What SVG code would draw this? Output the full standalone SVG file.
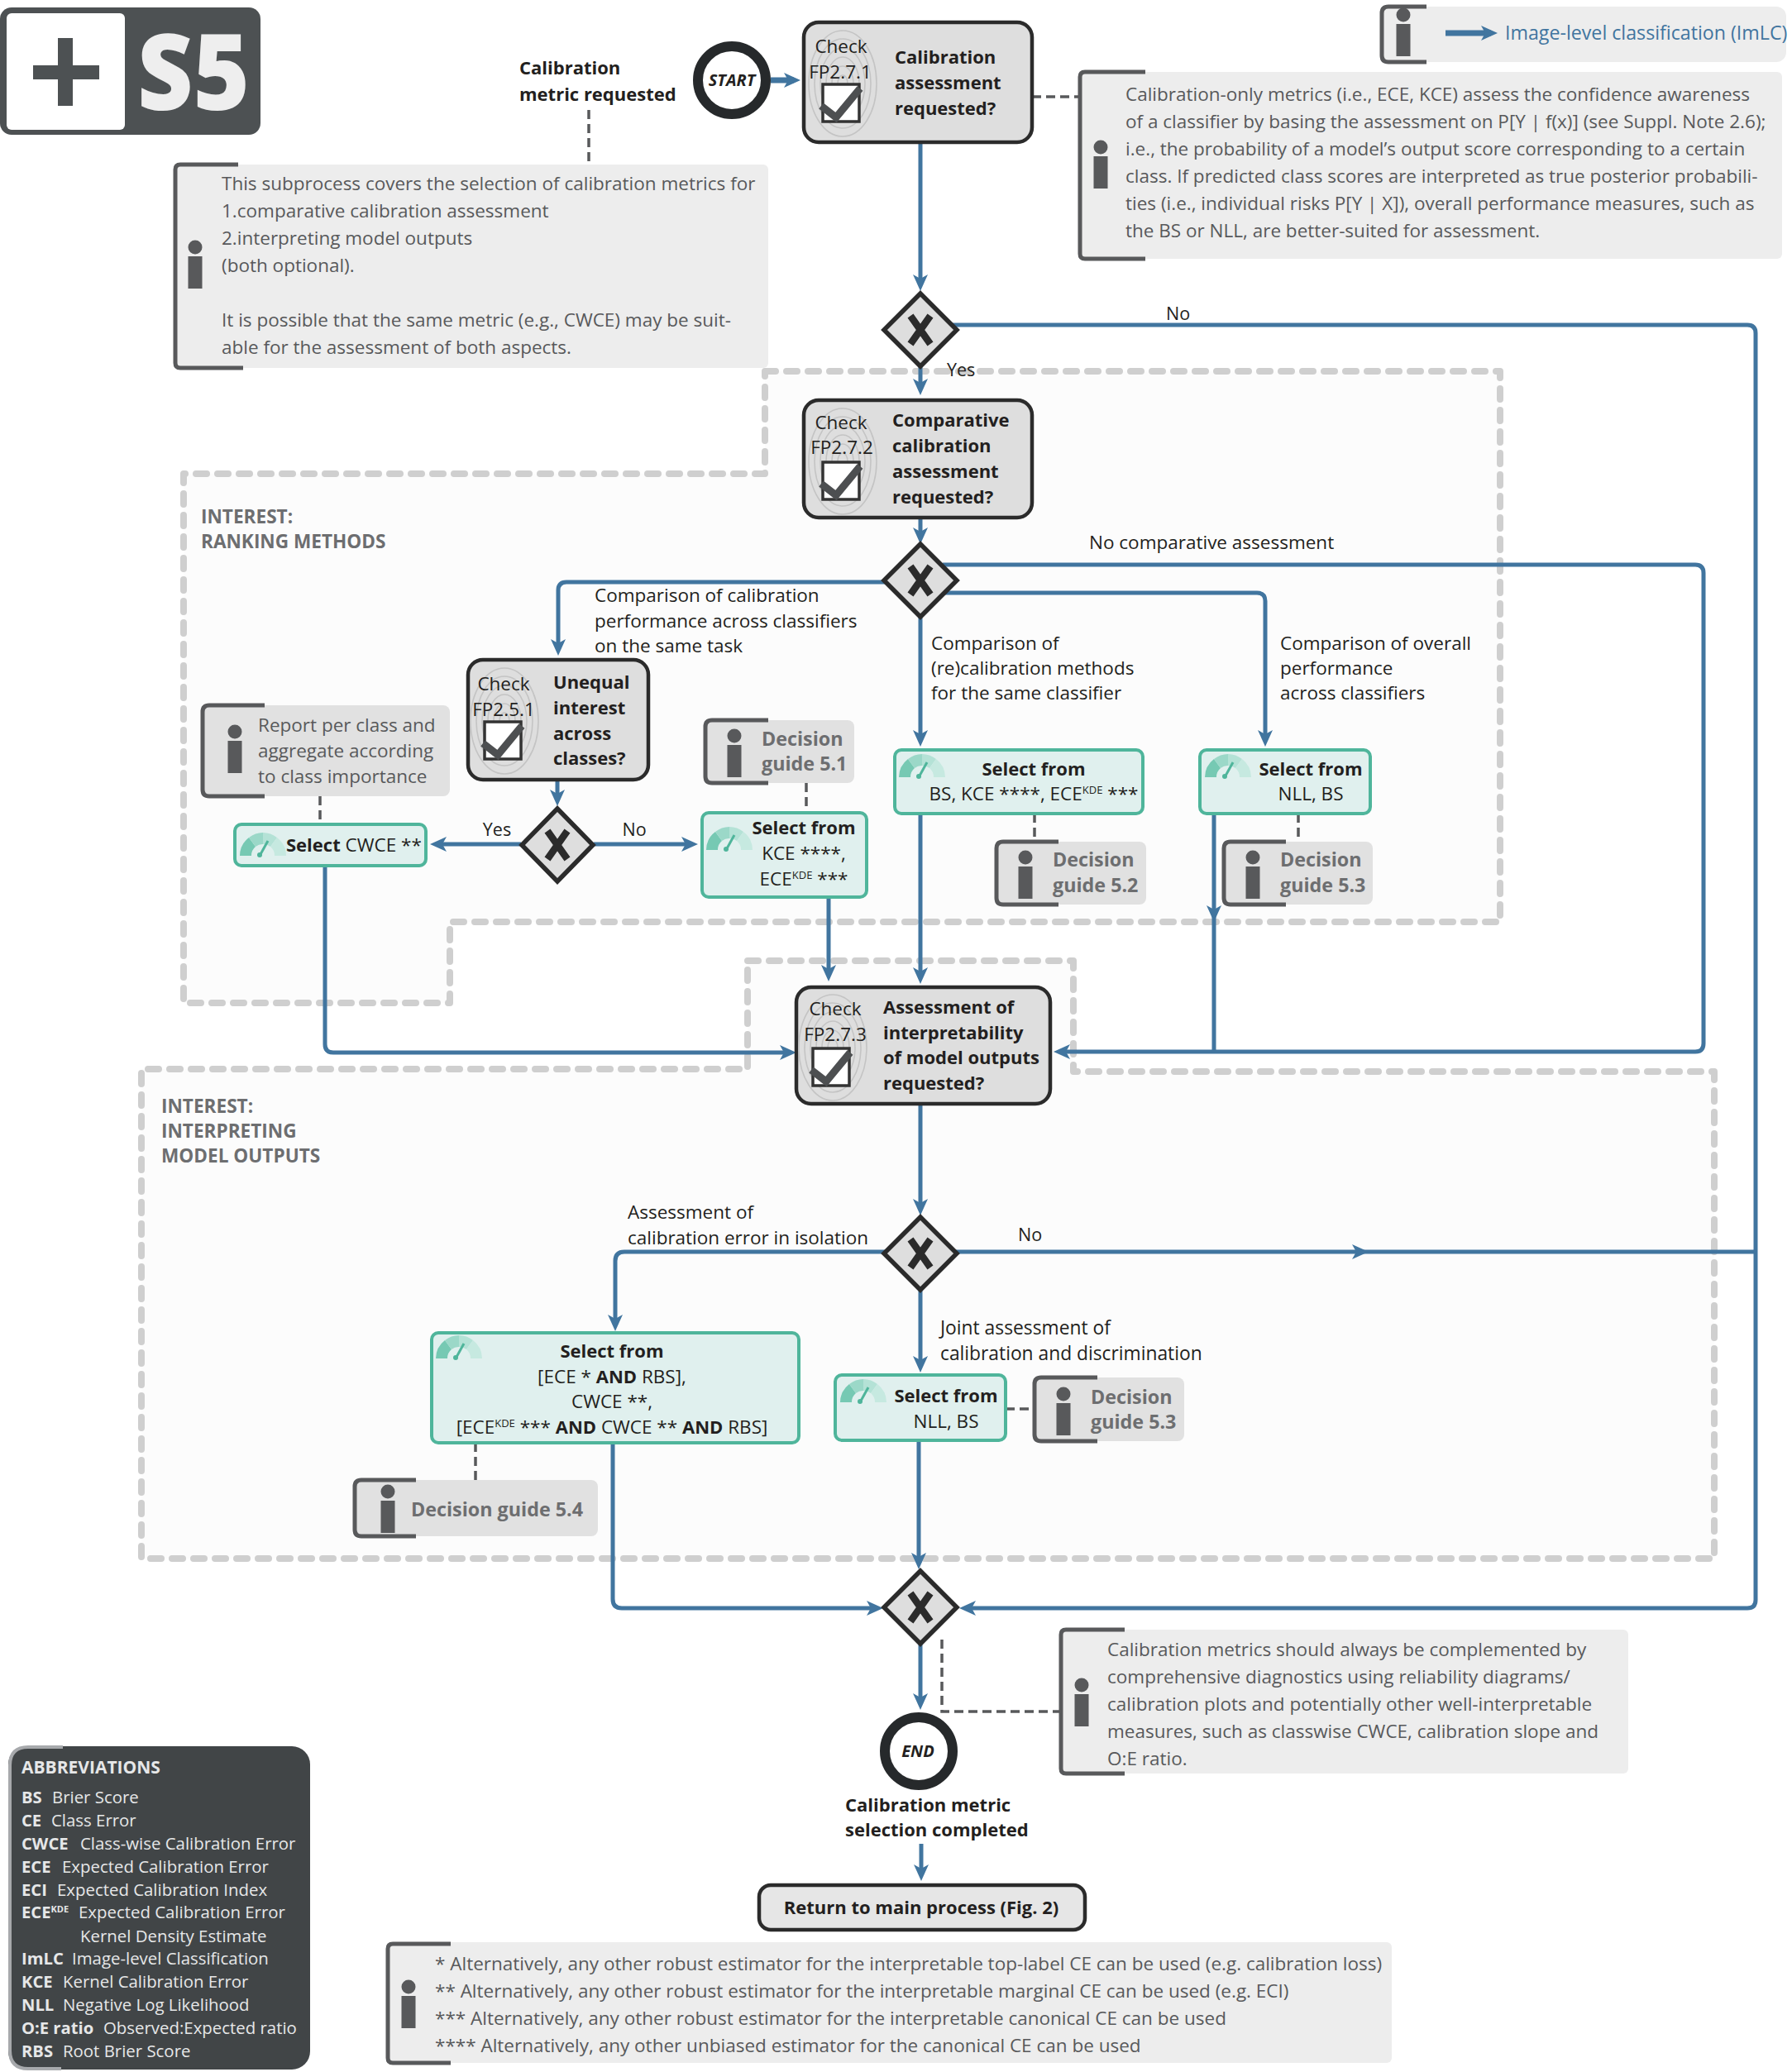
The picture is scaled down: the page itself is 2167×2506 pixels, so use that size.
<svg xmlns="http://www.w3.org/2000/svg" width="2167" height="2506" viewBox="0 0 2167 2506">
<style>
text{font-family:"Open Sans","Noto Sans",sans-serif;font-size:22.5px;fill:#231f20}
.b{font-weight:700;font-size:22px}
.info text,text.info{fill:#58595b}
.info text.gd,.gd{font-weight:700;fill:#6d6e70;font-size:23.3px}
.reg{fill:#fcfcfc;stroke:#cfcfcf;stroke-width:8;stroke-dasharray:13 13;stroke-linecap:round;stroke-linejoin:round}
.regt{font-weight:700;fill:#6d6e70;font-size:22.6px}
.c{fill:none;stroke:#41759f;stroke-width:5;stroke-linejoin:round}
.ca{marker-end:url(#ah)}
.d{fill:none;stroke:#58595b;stroke-width:3.5;stroke-dasharray:11 6}
.task{fill:#dedede;stroke:#2b2b2b;stroke-width:4.5}
.sel{fill:#e0f0ee;stroke:#4fb59b;stroke-width:4}
.gw{fill:#dedede;stroke:#2b2b2b;stroke-width:5.5;stroke-linejoin:miter}
.x{fill:none;stroke:#2b2b2b;stroke-width:8.5}
.p1{fill:#ededed}.p2{fill:#e1e1e1}
.br{fill:none;stroke:#58595b;stroke-width:5}
.ab text{fill:#e6e7e8;font-size:20.4px}
.ab .b{font-weight:700;font-size:20.2px}
.m{text-anchor:middle}
</style>
<defs>
<marker id="ah" markerUnits="userSpaceOnUse" markerWidth="22" markerHeight="20" refX="12" refY="10" orient="auto">
<path d="M0 1 L20 10 L0 19 L5 10 Z" fill="#41759f"/>
</marker>
<g id="i"><circle cx="0" cy="0" r="8.5" fill="#58595b"/><rect x="-8.5" y="11" width="17" height="39" fill="#58595b"/></g>
<g id="g">
<path d="M0 0 A28 28 0 0 1 11 -22 L19 -11 A14 14 0 0 0 14 0 Z" fill="#76c9b3"/>
<path d="M11 -22 A28 28 0 0 1 28 -28 L28 -14 A14 14 0 0 0 19 -11 Z" fill="#9bd8c8"/>
<path d="M28 -28 A28 28 0 0 1 45 -22 L37 -11 A14 14 0 0 0 28 -14 Z" fill="#b4e2d6"/>
<path d="M45 -22 A28 28 0 0 1 56 0 L42 0 A14 14 0 0 0 37 -11 Z" fill="#c6e9e0"/>
<path d="M24 0 L34 -18" stroke="#4fb59b" stroke-width="3" fill="none"/><circle cx="24" cy="-1" r="3" fill="#4fb59b"/>
</g>
<g id="chk">
<g fill="none" stroke="#c4c4c4" stroke-width="1.6">
<ellipse cx="1" cy="-24" rx="41" ry="64"/><ellipse cx="1" cy="-24" rx="34" ry="54"/><ellipse cx="1" cy="-24" rx="27" ry="43"/><ellipse cx="1" cy="-24" rx="20" ry="32"/><ellipse cx="1" cy="-24" rx="13" ry="21"/><ellipse cx="1" cy="-24" rx="6" ry="10"/>
</g>
<rect x="-23" y="-23" width="44" height="45" fill="#fff" stroke="#333" stroke-width="3.5"/>
<path d="M-25 3 L-7 17 L22 -18" fill="none" stroke="#4d4f51" stroke-width="9"/>
</g>
</defs>
<rect width="2167" height="2506" fill="#fff"/>

<g id="regions">
<path class="reg" d="M925 449 H1814 V1115 H544 V1213 H222 V573 H925 Z"/>
<path class="reg" d="M904 1162 H1298 V1296 H2073 V1885 H171 V1293 H904 Z"/>
<text class="regt" x="243" y="633">INTEREST:</text>
<text class="regt" x="243" y="663">RANKING METHODS</text>
<text class="regt" x="195" y="1346">INTEREST:</text>
<text class="regt" x="195" y="1376">INTERPRETING</text>
<text class="regt" x="195" y="1406">MODEL OUTPUTS</text>
</g>

<g id="connectors">
<path class="c ca" d="M932 97 H960" style="stroke-width:7"/>
<path class="c ca" d="M1113 172 V344"/>
<path class="c ca" d="M1113 443 V470"/>
<path class="c ca" d="M1150 393 H2113 Q2123 393 2123 403 V1935 Q2123 1945 2113 1945 H1168"/>
<path class="c ca" d="M1113 626 V650"/>
<path class="c ca" d="M1085 704 H685 Q675 704 675 714 V785"/>
<path class="c ca" d="M1140 683 H2050 Q2060 683 2060 693 V1262 Q2060 1272 2050 1272 H1282"/>
<path class="c ca" d="M1135 717 H1520 Q1530 717 1530 727 V895"/>
<path class="c ca" d="M1113 746 V895"/>
<path class="c ca" d="M1113 984 V1182"/>
<path class="c ca" d="M1468 984 V1107"/>
<path class="c" d="M1468 1107 V1272"/>
<path class="c ca" d="M674 943 V967"/>
<path class="c ca" d="M630 1021 H528"/>
<path class="c ca" d="M718 1021 H836"/>
<path class="c ca" d="M393 1047 V1263 Q393 1273 403 1273 H955"/>
<path class="c ca" d="M1002 1085 V1179"/>
<path class="c ca" d="M1113 1336 V1462"/>
<path class="c ca" d="M1150 1514 H1647"/>
<path class="c" d="M1640 1514 H2123"/>
<path class="c ca" d="M1085 1514 H755 Q744 1514 744 1525 V1602"/>
<path class="c ca" d="M1113 1560 V1652"/>
<path class="c ca" d="M1111 1742 V1890"/>
<path class="c ca" d="M741 1745 V1934 Q741 1945 752 1945 H1060"/>
<path class="c ca" d="M1113 1988 V2060"/>
<path class="c ca" d="M1114 2230 V2267"/>
<path class="d" d="M1248 117 H1304"/>
<path class="d" d="M712 133 V197"/>
<path class="d" d="M387 963 V995"/>
<path class="d" d="M975 947 V981"/>
<path class="d" d="M1251 984 V1016"/>
<path class="d" d="M1570 984 V1016"/>
<path class="d" d="M575 1745 V1790"/>
<path class="d" d="M1216 1704 H1250"/>
<path class="d" d="M1139 1983 V2070 H1281"/>
</g>

<g id="logo">
<rect x="0" y="9" width="315" height="154" rx="14" fill="#4d5153"/>
<rect x="8" y="16" width="143" height="141" rx="6" fill="#fff"/>
<path d="M40 79 H70 V46 H88 V79 H120 V96 H88 V128 H70 V96 H40 Z" fill="#4d5153"/>
<text class="b" x="166" y="133" style="font-size:127px;font-weight:800;fill:#eeeeee" textLength="136" lengthAdjust="spacingAndGlyphs">S5</text>
</g>

<g id="legend" class="info">
<rect class="p1" x="1669" y="8" width="491" height="67" rx="12"/>
<path class="br" d="M1725 8 H1679 Q1671 8 1671 16 V67 Q1671 75 1679 75 H1725"/>
<use href="#i" x="1697" y="18"/>
<path class="c ca" style="stroke-width:7" d="M1748 40 H1803"/>
<text x="1820" y="48" style="fill:#41759f;font-size:23.2px">Image-level classification (ImLC)</text>
</g>

<g id="start">
<circle cx="885" cy="97" r="41" fill="#fff" stroke="#26292b" stroke-width="12"/>
<text class="m b" x="885" y="104" style="font-size:20px;font-style:italic">START</text>
</g>
<g id="req-label">
<text class="b" x="628" y="90">Calibration</text>
<text class="b" x="628" y="122">metric requested</text>
</g>

<g id="task1">
<rect class="task" x="972" y="27" width="276" height="145" rx="18"/>
<use href="#chk" x="1018" y="125"/>
<text class="m" x="1017" y="64">Check</text>
<text class="m" x="1016" y="95">FP2.7.1</text>
<text class="b" x="1082" y="77">Calibration</text>
<text class="b" x="1082" y="108">assessment</text>
<text class="b" x="1082" y="139">requested?</text>
</g>

<g id="info-right" class="info">
<rect class="p1" x="1304" y="87" width="851" height="226" rx="6"/>
<path class="br" d="M1385 87 H1312 Q1306 87 1306 93 V307 Q1306 313 1312 313 H1385"/>
<use href="#i" x="1331" y="178"/>
<text x="1361" y="122">Calibration-only metrics (i.e., ECE, KCE) assess the confidence awareness</text>
<text x="1361" y="155">of a classifier by basing the assessment on P[Y | f(x)] (see Suppl. Note 2.6);</text>
<text x="1361" y="188">i.e., the probability of a model’s output score corresponding to a certain</text>
<text x="1361" y="221">class. If predicted class scores are interpreted as true posterior probabili-</text>
<text x="1361" y="254">ties (i.e., individual risks P[Y | X]), overall performance measures, such as</text>
<text x="1361" y="287">the BS or NLL, are better-suited for assessment.</text>
</g>

<g id="info-left" class="info">
<rect class="p1" x="210" y="199" width="719" height="246" rx="6"/>
<path class="br" d="M288 199 H218 Q212 199 212 205 V439 Q212 445 218 445 H294"/>
<use href="#i" x="236" y="299"/>
<text x="268" y="230">This subprocess covers the selection of calibration metrics for</text>
<text x="268" y="263">1.comparative calibration assessment</text>
<text x="268" y="296">2.interpreting model outputs</text>
<text x="268" y="329">(both optional).</text>
<text x="268" y="395">It is possible that the same metric (e.g., CWCE) may be suit-</text>
<text x="268" y="428">able for the assessment of both aspects.</text>
</g>

<g id="gw1">
<path class="gw" d="M1113 355 L1157 399 L1113 443 L1069 399 Z"/><path class="x" d="M1101 382 L1125 416 M1125 382 L1101 416"/>
<text x="1145" y="455" style="font-size:21.5px">Yes</text>
<text x="1410" y="387" style="font-size:21.5px">No</text>
</g>

<g id="task2">
<rect class="task" x="972" y="484" width="276" height="142" rx="18"/>
<use href="#chk" x="1018" y="582"/>
<text class="m" x="1017" y="519">Check</text>
<text class="m" x="1018" y="549">FP2.7.2</text>
<text class="b" x="1079" y="516">Comparative</text>
<text class="b" x="1079" y="547">calibration</text>
<text class="b" x="1079" y="578">assessment</text>
<text class="b" x="1079" y="609">requested?</text>
</g>

<g id="gw2">
<path class="gw" d="M1113 658 L1157 702 L1113 746 L1069 702 Z"/><path class="x" d="M1101 685 L1125 719 M1125 685 L1101 719"/>
</g>
<g id="labels-gw2">
<text x="1317" y="664">No comparative assessment</text>
<text x="719" y="728">Comparison of calibration</text>
<text x="719" y="759">performance across classifiers</text>
<text x="719" y="789">on the same task</text>
<text x="1126" y="786">Comparison of</text>
<text x="1126" y="816">(re)calibration methods</text>
<text x="1126" y="846">for the same classifier</text>
<text x="1548" y="786">Comparison of overall</text>
<text x="1548" y="816">performance</text>
<text x="1548" y="846">across classifiers</text>
</g>

<g id="task3">
<rect class="task" x="566" y="798" width="218" height="145" rx="18"/>
<use href="#chk" x="609" y="896"/>
<text class="m" x="609" y="835">Check</text>
<text class="m" x="609" y="866">FP2.5.1</text>
<text class="b" x="669" y="833">Unequal</text>
<text class="b" x="669" y="864">interest</text>
<text class="b" x="669" y="895">across</text>
<text class="b" x="669" y="925">classes?</text>
</g>

<g id="gw3">
<path class="gw" d="M674 978 L717 1022 L674 1066 L631 1022 Z"/><path class="x" d="M662 1005 L686 1039 M686 1005 L662 1039"/>
<text class="m" x="601" y="1011" style="font-size:21.5px">Yes</text>
<text class="m" x="767" y="1011" style="font-size:21.5px">No</text>
</g>

<g id="info-class" class="info">
<rect class="p2" x="243" y="853" width="301" height="110" rx="8"/>
<path class="br" d="M320 853 H253 Q245 853 245 861 V955 Q245 963 253 963 H320"/>
<use href="#i" x="284" y="885"/>
<text x="312" y="885">Report per class and</text>
<text x="312" y="916">aggregate according</text>
<text x="312" y="947">to class importance</text>
</g>

<g id="sel-cwce">
<rect class="sel" x="284" y="997" width="231" height="50" rx="8"/>
<use href="#g" x="290" y="1035"/>
<text x="346" y="1030"><tspan class="b">Select</tspan> CWCE **</text>
</g>

<g id="dg51" class="info">
<rect class="p2" x="851" y="871" width="182" height="76" rx="8"/>
<path class="br" d="M929 871 H861 Q853 871 853 879 V939 Q853 947 861 947 H929"/>
<use href="#i" x="888" y="890"/>
<text class="gd" x="921" y="902">Decision</text>
<text class="gd" x="921" y="932">guide 5.1</text>
</g>

<g id="sel-kce">
<rect class="sel" x="849" y="983" width="199" height="102" rx="8"/>
<use href="#g" x="854" y="1028"/>
<text class="m b" x="972" y="1009">Select from</text>
<text class="m" x="972" y="1040">KCE ****,</text>
<text class="m" x="972" y="1071">ECE<tspan dy="-8" style="font-size:13px">KDE</tspan><tspan dy="8"> ***</tspan></text>
</g>

<g id="sel-bs">
<rect class="sel" x="1082" y="907" width="300" height="77" rx="8"/>
<use href="#g" x="1087" y="940"/>
<text class="m b" x="1250" y="938">Select from</text>
<text class="m" x="1250" y="968">BS, KCE ****, ECE<tspan dy="-8" style="font-size:13px">KDE</tspan><tspan dy="8"> ***</tspan></text>
</g>

<g id="sel-nll">
<rect class="sel" x="1451" y="907" width="206" height="77" rx="8"/>
<use href="#g" x="1457" y="940"/>
<text class="m b" x="1585" y="938">Select from</text>
<text class="m" x="1585" y="968">NLL, BS</text>
</g>

<g id="dg52" class="info">
<rect class="p2" x="1203" y="1018" width="183" height="76" rx="8"/>
<path class="br" d="M1280 1018 H1213 Q1205 1018 1205 1026 V1086 Q1205 1094 1213 1094 H1280"/>
<use href="#i" x="1240" y="1037"/>
<text class="gd" x="1273" y="1048">Decision</text>
<text class="gd" x="1273" y="1079">guide 5.2</text>
</g>

<g id="dg53a" class="info">
<rect class="p2" x="1478" y="1018" width="182" height="76" rx="8"/>
<path class="br" d="M1555 1018 H1488 Q1480 1018 1480 1026 V1086 Q1480 1094 1488 1094 H1555"/>
<use href="#i" x="1515" y="1037"/>
<text class="gd" x="1548" y="1048">Decision</text>
<text class="gd" x="1548" y="1079">guide 5.3</text>
</g>

<g id="task4">
<rect class="task" x="963" y="1194" width="307" height="141" rx="18"/>
<use href="#chk" x="1006" y="1291"/>
<text class="m" x="1010" y="1228">Check</text>
<text class="m" x="1010" y="1259">FP2.7.3</text>
<text class="b" x="1068" y="1226">Assessment of</text>
<text class="b" x="1068" y="1257">interpretability</text>
<text class="b" x="1068" y="1287">of model outputs</text>
<text class="b" x="1068" y="1318">requested?</text>
</g>

<g id="gw4">
<path class="gw" d="M1113 1472 L1157 1516 L1113 1560 L1069 1516 Z"/><path class="x" d="M1101 1499 L1125 1533 M1125 1499 L1101 1533"/>
<text x="1231" y="1501" style="font-size:21.5px">No</text>
<text x="759" y="1474">Assessment of</text>
<text x="759" y="1505">calibration error in isolation</text>
<text x="1137" y="1614" style="font-size:22.8px">Joint assessment of</text>
<text x="1137" y="1645" style="font-size:22.8px">calibration and discrimination</text>
</g>

<g id="sel-ece">
<rect class="sel" x="522" y="1612" width="444" height="133" rx="8"/>
<use href="#g" x="527" y="1643"/>
<text class="m b" x="740" y="1642">Select from</text>
<text class="m" x="740" y="1673">[ECE * <tspan class="b">AND</tspan> RBS],</text>
<text class="m" x="740" y="1703">CWCE **,</text>
<text class="m" x="740" y="1734">[ECE<tspan dy="-8" style="font-size:13px">KDE</tspan><tspan dy="8"> *** </tspan><tspan class="b">AND</tspan> CWCE ** <tspan class="b">AND</tspan> RBS]</text>
</g>

<g id="sel-nll2">
<rect class="sel" x="1010" y="1663" width="206" height="79" rx="8"/>
<use href="#g" x="1016" y="1696"/>
<text class="m b" x="1144" y="1696">Select from</text>
<text class="m" x="1144" y="1727">NLL, BS</text>
</g>

<g id="dg53b" class="info">
<rect class="p2" x="1249" y="1666" width="183" height="77" rx="8"/>
<path class="br" d="M1327 1666 H1259 Q1251 1666 1251 1674 V1735 Q1251 1743 1259 1743 H1327"/>
<use href="#i" x="1286" y="1686"/>
<text class="gd" x="1319" y="1698">Decision</text>
<text class="gd" x="1319" y="1728">guide 5.3</text>
</g>

<g id="dg54" class="info">
<rect class="p2" x="427" y="1790" width="296" height="68" rx="8"/>
<path class="br" d="M503 1790 H437 Q429 1790 429 1798 V1850 Q429 1858 437 1858 H503"/>
<use href="#i" x="469" y="1804"/>
<text class="gd" x="497" y="1834">Decision guide 5.4</text>
</g>

<g id="gw5">
<path class="gw" d="M1113 1900 L1157 1944 L1113 1988 L1069 1944 Z"/><path class="x" d="M1101 1927 L1125 1961 M1125 1927 L1101 1961"/>
</g>

<g id="info-diag" class="info">
<rect class="p1" x="1281" y="1971" width="688" height="174" rx="6"/>
<path class="br" d="M1360 1971 H1289 Q1283 1971 1283 1977 V2139 Q1283 2145 1289 2145 H1360"/>
<use href="#i" x="1308" y="2038"/>
<text x="1339" y="2003">Calibration metrics should always be complemented by</text>
<text x="1339" y="2036">comprehensive diagnostics using reliability diagrams/</text>
<text x="1339" y="2069">calibration plots and potentially other well-interpretable</text>
<text x="1339" y="2102">measures, such as classwise CWCE, calibration slope and</text>
<text x="1339" y="2135">O:E ratio.</text>
</g>

<g id="end">
<circle cx="1111" cy="2118" r="41" fill="#fff" stroke="#26292b" stroke-width="12"/>
<text class="m b" x="1110" y="2125" style="font-size:20px;font-style:italic">END</text>
<text class="b" x="1022" y="2191">Calibration metric</text>
<text class="b" x="1022" y="2221">selection completed</text>
</g>

<g id="return">
<rect x="918" y="2280" width="394" height="54" rx="14" fill="#e6e6e6" stroke="#2b2b2b" stroke-width="4.5"/>
<text class="m b" x="1114" y="2315">Return to main process (Fig. 2)</text>
</g>

<g id="footnotes" class="info">
<rect class="p1" x="467" y="2349" width="1216" height="146" rx="6"/>
<path class="br" d="M545 2351 H475 Q469 2351 469 2357 V2489 Q469 2495 475 2495 H545"/>
<use href="#i" x="494" y="2403"/>
<text x="526" y="2383">* Alternatively, any other robust estimator for the interpretable top-label CE can be used (e.g. calibration loss)</text>
<text x="526" y="2416">** Alternatively, any other robust estimator for the interpretable marginal CE can be used (e.g. ECI)</text>
<text x="526" y="2449">*** Alternatively, any other robust estimator for the interpretable canonical CE can be used</text>
<text x="526" y="2482">**** Alternatively, any other unbiased estimator for the canonical CE can be used</text>
</g>

<g id="abbr" class="ab">
<rect x="10" y="2112" width="365" height="391" rx="22" fill="#414547"/>
<path d="M76 2113 H34 Q12 2113 12 2135 V2480 Q12 2502 34 2502 H74" fill="none" stroke="#a7a9ac" stroke-width="4"/>
<text class="b" x="26" y="2145" style="font-size:21px">ABBREVIATIONS</text>
<text x="26" y="2181"><tspan class="b">BS</tspan><tspan x="63">Brier Score</tspan></text>
<text x="26" y="2209"><tspan class="b">CE</tspan><tspan x="62">Class Error</tspan></text>
<text x="26" y="2237"><tspan class="b">CWCE</tspan><tspan x="97">Class-wise Calibration Error</tspan></text>
<text x="26" y="2265"><tspan class="b">ECE</tspan><tspan x="75">Expected Calibration Error</tspan></text>
<text x="26" y="2293"><tspan class="b">ECI</tspan><tspan x="69">Expected Calibration Index</tspan></text>
<text x="26" y="2320"><tspan class="b">ECE</tspan><tspan class="b" dy="-7" style="font-size:11px">KDE</tspan><tspan x="95" dy="7">Expected Calibration Error</tspan></text>
<text x="97" y="2349">Kernel Density Estimate</text>
<text x="26" y="2376"><tspan class="b">ImLC</tspan><tspan x="87">Image-level Classification</tspan></text>
<text x="26" y="2404"><tspan class="b">KCE</tspan><tspan x="76">Kernel Calibration Error</tspan></text>
<text x="26" y="2432"><tspan class="b">NLL</tspan><tspan x="76">Negative Log Likelihood</tspan></text>
<text x="26" y="2460"><tspan class="b">O:E ratio</tspan><tspan x="125">Observed:Expected ratio</tspan></text>
<text x="26" y="2488"><tspan class="b">RBS</tspan><tspan x="76">Root Brier Score</tspan></text>
</g>
</svg>
